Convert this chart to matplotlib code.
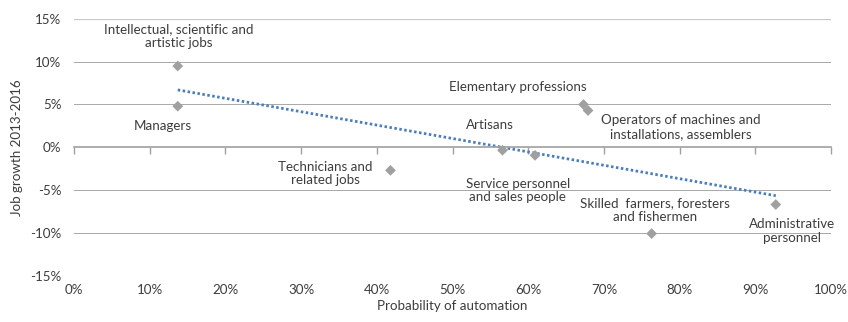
import numpy as np
import matplotlib
matplotlib.use("Agg")
import matplotlib.pyplot as plt
from matplotlib.ticker import FuncFormatter

plt.rcParams['font.family'] = ['Lato', 'DejaVu Sans']

# probability of automation (%) and job growth 2013-2016 (%)
jobs = ["Intellectual, scientific and\nartistic jobs", "Managers",
        "Technicians and\nrelated jobs", "Artisans",
        "Service personnel\nand sales people", "Elementary professions",
        "Operators of machines and\ninstallations, assemblers",
        "Skilled  farmers, foresters\nand fishermen",
        "Administrative\npersonnel"]
automation = [13.7, 13.7, 41.8, 56.6, 60.9, 67.3, 67.9, 76.3, 92.7]
growth = [9.5, 4.8, -2.7, -0.35, -0.95, 5.0, 4.3, -10.1, -6.7]

# label anchor points (data units)
label_x = [13.8, 11.7, 33.2, 55.0, 58.6, 58.6, 80.1, 76.8, 94.8]
label_y = [13.0, 2.45, -3.05, 2.55, -5.05, 7.0, 2.35, -7.35, -9.8]

x_ticks = np.arange(0, 101, 10)
y_ticks = np.arange(-15, 16, 5)

txt = '#3c3c3c'
fs = 9.6
fig = plt.figure(figsize=(8.48, 3.22), dpi=100)
ax = fig.add_axes([0.0873, 0.1444, 0.8927, 0.7966])

for v in y_ticks:
    if v == 0:
        continue
    if v == 15:
        ax.axhline(v, color='#c8c8c8', lw=1.6, zorder=0)
    else:
        ax.axhline(v, color='#a8a8a8', lw=0.7, zorder=0)

ax.scatter(automation, growth, marker='D', s=30, color='#a0a0a0',
           edgecolor='none', zorder=3)

# linear trend across the occupations
k, b = np.polyfit(automation, growth, 1)
xt = np.array([min(automation), max(automation)])
ax.plot(xt, k * xt + b, color='#4a7ebb', lw=2, ls=(0, (0.9, 0.9)), zorder=2)

for name, lx, ly in zip(jobs, label_x, label_y):
    ax.text(lx, ly, name, ha='center', va='center', fontsize=fs,
            color=txt, linespacing=1.15)

ax.set_xlim(0, 100)
ax.set_ylim(-15, 15)
for s in ['top', 'right', 'left']:
    ax.spines[s].set_visible(False)
ax.spines['bottom'].set_position(('data', 0))
ax.spines['bottom'].set_color('#a0a0a0')
ax.spines['bottom'].set_linewidth(1.2)
ax.set_xticks(x_ticks)
ax.tick_params(axis='x', direction='out', length=5, color='#a0a0a0',
               width=1, labelbottom=False)
ax.set_yticks(y_ticks)
ax.yaxis.set_major_formatter(FuncFormatter(lambda v, p: f"{v:.0f}%"))
ax.tick_params(axis='y', length=0, labelsize=fs, labelcolor=txt, pad=9)

# x labels sit along the bottom of the plot, not on the zero line
sec = ax.secondary_xaxis('bottom')
sec.set_xticks(x_ticks)
sec.xaxis.set_major_formatter(FuncFormatter(lambda v, p: f"{v:.0f}%"))
sec.tick_params(length=0, labelsize=fs, labelcolor=txt, pad=6)
sec.spines['bottom'].set_visible(False)
sec.set_xlabel("Probability of automation", fontsize=fs, color=txt,
               labelpad=3)

ax.set_ylabel("Job growth 2013-2016", fontsize=fs, color=txt, labelpad=5)

fig.savefig("out.png", dpi=100)
